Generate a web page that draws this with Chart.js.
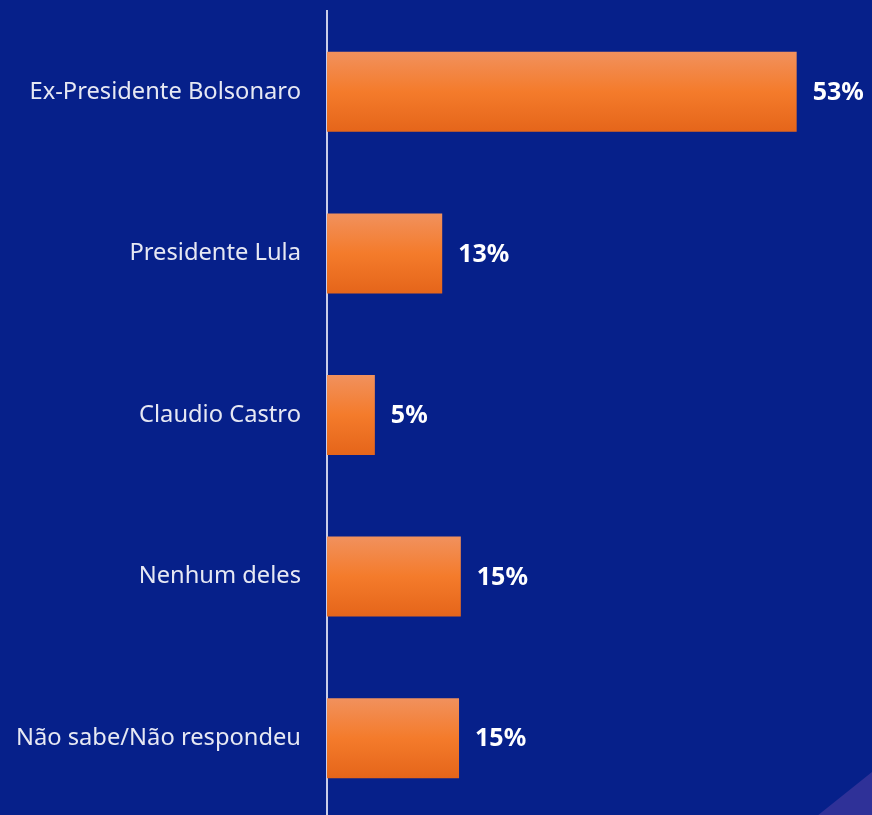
<!DOCTYPE html>
<html>
<head>
<meta charset="utf-8">
<script src="https://cdn.jsdelivr.net/npm/chart.js@4/dist/chart.umd.min.js"></script>
<style>
  html, body { margin: 0; padding: 0; background: #06208a; overflow: hidden; }
  #wrap { width: 872px; height: 820px; position: relative; }
</style>
</head>
<body>
<div id="wrap"><canvas id="barChart"></canvas></div>
<script>
var categories = ['Ex-Presidente Bolsonaro', 'Presidente Lula', 'Claudio Castro', 'Nenhum deles', 'Não sabe/Não respondeu'];
var values = [53, 13, 5.4, 15.1, 14.9];
var valueLabels = ['53%', '13%', '5%', '15%', '15%'];

var barPct = 0.495;

function barGradient(ctx) {
    var chart = ctx.chart;
    var area = chart.chartArea;
    if (!area) return '#f47b2a';
    var yScale = chart.scales.y;
    var band = yScale.height / categories.length;
    var mid = yScale.getPixelForValue(ctx.dataIndex);
    var half = band * barPct / 2;
    var g = chart.ctx.createLinearGradient(0, mid - half, 0, mid + half);
    g.addColorStop(0, '#f1915d');
    g.addColorStop(0.5, '#f47b2b');
    g.addColorStop(1, '#e5651a');
    return g;
}

// background colour + purple corner decoration
var cornerShape = {
    id: 'cornerShape',
    beforeDraw: function(chart) {
        var c = chart.ctx;
        c.save();
        c.fillStyle = '#06208a';
        c.fillRect(0, 0, chart.width, chart.height);
        c.beginPath();
        c.moveTo(872, 772);
        c.lineTo(872, 820);
        c.lineTo(812, 820);
        c.closePath();
        c.fillStyle = '#2f3198';
        c.fill();
        c.restore();
    }
};

// percentage labels to the right of each bar
var valueText = {
    id: 'valueText',
    afterDatasetsDraw: function(chart) {
        var c = chart.ctx;
        var bars = chart.getDatasetMeta(0).data;
        c.save();
        c.fillStyle = '#ffffff';
        c.font = 'bold 25px "Noto Sans"';
        c.textBaseline = 'middle';
        c.textAlign = 'left';
        bars.forEach(function(bar, i) {
            c.fillText(valueLabels[i], bar.x + 16, bar.y + 1);
        });
        c.restore();
    }
};

new Chart(document.getElementById('barChart'), {
    type: 'bar',
    data: {
        labels: categories,
        datasets: [{
            data: values,
            backgroundColor: barGradient,
            borderWidth: 0,
            barPercentage: barPct,
            categoryPercentage: 1
        }]
    },
    options: {
        indexAxis: 'y',
        responsive: true,
        maintainAspectRatio: false,
        animation: false,
        layout: { autoPadding: false, padding: { top: 11, bottom: 1, left: 0, right: 0 } },
        plugins: {
            legend: { display: false },
            tooltip: { enabled: false }
        },
        scales: {
            x: {
                display: false,
                min: 0,
                max: 61.5
            },
            y: {
                grid: { display: false, drawTicks: false },
                border: { display: true, color: '#c9cdea', width: 2 },
                ticks: {
                    color: '#e6e8f3',
                    padding: 26,
                    font: { family: '"Noto Sans"', size: 23.7 }
                },
                afterFit: function(scale) {
                    scale.width = 327;
                    scale.paddingTop = 0;
                    scale.paddingBottom = 0;
                }
            }
        }
    },
    plugins: [cornerShape, valueText]
});
</script>
</body>
</html>
